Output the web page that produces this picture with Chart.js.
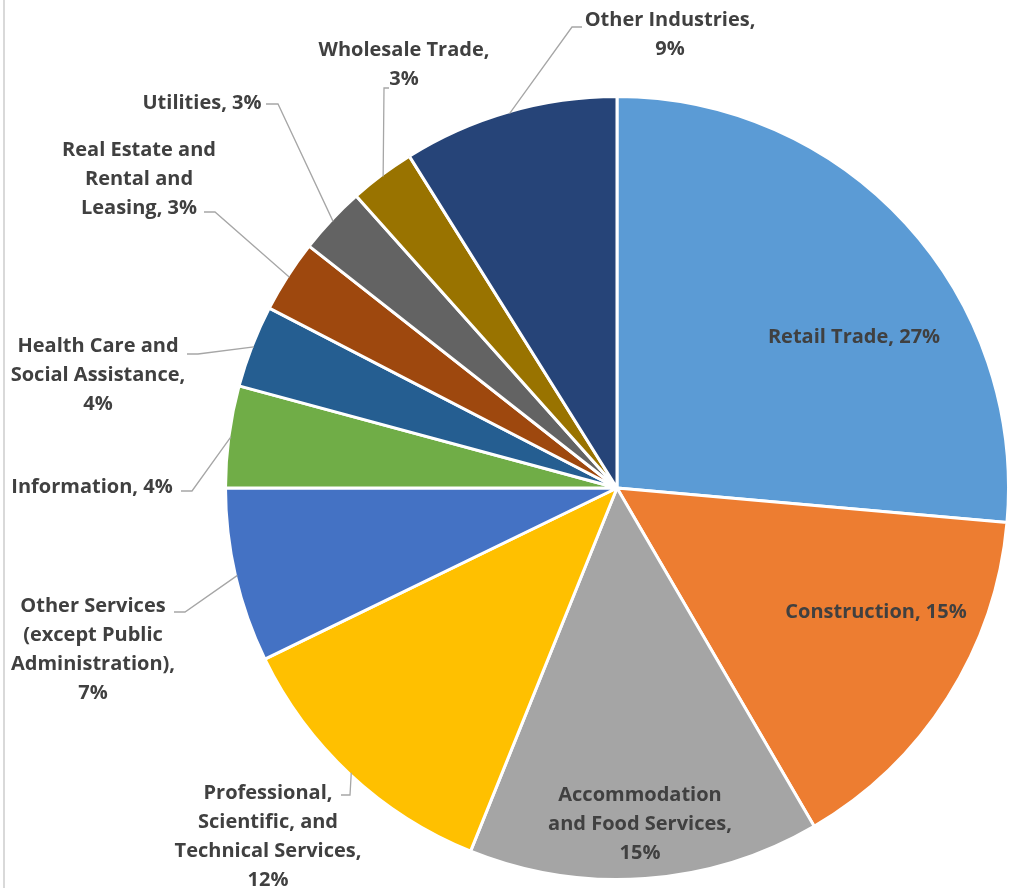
<!DOCTYPE html>
<html>
<head>
<meta charset="utf-8">
<script src="https://cdn.jsdelivr.net/npm/chart.js@4.4.1/dist/chart.umd.min.js"></script>
<style>
    html, body { margin: 0; padding: 0; background: #fff; }
    #wrap { position: relative; width: 1010px; height: 888px; }
    #edge { position: absolute; left: 3px; top: 0; width: 2px; height: 888px; background: #d9d9d9; }
</style>
</head>
<body>
<div id="wrap">
    <canvas id="industryPie" width="1010" height="888"></canvas>
    <div id="edge"></div>
</div>
<script>
// Données (parts en %)
const industries = [
    'Retail Trade', 'Construction', 'Accommodation and Food Services',
    'Professional, Scientific, and Technical Services',
    'Other Services (except Public Administration)', 'Information',
    'Health Care and Social Assistance', 'Real Estate and Rental and Leasing',
    'Utilities', 'Wholesale Trade', 'Other Industries'
];
const shares = [26.4, 15.2, 14.5, 11.7, 7.2, 4.2, 3.4, 3.0, 2.8, 2.7, 8.9];
const sliceColors = [
    '#5b9bd5', '#ed7d31', '#a5a5a5', '#ffc000', '#4472c4', '#70ad47',
    '#255e91', '#9e480e', '#636363', '#997300', '#264478'
];

// Libellés : lignes de texte, position du texte, coude et bout du trait de rappel
const labelLines = [
    ['Retail Trade, 27%'],
    ['Construction, 15%'],
    ['Accommodation', 'and Food Services,', '15%'],
    ['Professional,', 'Scientific, and', 'Technical Services,', '12%'],
    ['Other Services', '(except Public', 'Administration),', '7%'],
    ['Information, 4%'],
    ['Health Care and', 'Social Assistance,', '4%'],
    ['Real Estate and', 'Rental and', 'Leasing, 3%'],
    ['Utilities, 3%'],
    ['Wholesale Trade,', '3%'],
    ['Other Industries,', '9%']
];
const labelPos = [
    { x: 854, y: 337 },
    { x: 876, y: 612 },
    { x: 640, y: 795 },
    { x: 268, y: 793, leader: [[350, 795], [341, 795]] },
    { x: 93, y: 606, leader: [[185, 612], [174, 612]] },
    { x: 92, y: 487, leader: [[192, 491], [181, 491]] },
    { x: 98, y: 346, leader: [[198, 354], [187, 354]] },
    { x: 139, y: 150, leader: [[215, 212], [204, 212]] },
    { x: 202, y: 103, leader: [[278, 104], [266, 104]] },
    { x: 404, y: 50, leader: [[384, 88], [389, 88]] },
    { x: 670, y: 20, leader: [[572, 27], [582, 27]] }
];

const pieLabels = {
    id: 'pieLabels',
    afterDatasetsDraw(chart) {
        const ctx = chart.ctx;
        const arcs = chart.getDatasetMeta(0).data;
        ctx.save();
        arcs.forEach((arc, i) => {
            const pos = labelPos[i];
            if (pos.leader) {
                const mid = (arc.startAngle + arc.endAngle) / 2;
                const r = arc.outerRadius - 2;
                ctx.beginPath();
                ctx.moveTo(arc.x + Math.cos(mid) * r, arc.y + Math.sin(mid) * r);
                pos.leader.forEach(p => ctx.lineTo(p[0], p[1]));
                ctx.strokeStyle = '#a6a6a6';
                ctx.lineWidth = 1.3;
                ctx.stroke();
            }
            ctx.fillStyle = '#404040';
            ctx.font = 'bold 20px "Open Sans"';
            ctx.textAlign = 'center';
            ctx.textBaseline = 'middle';
            labelLines[i].forEach((line, k) => {
                ctx.fillText(line, pos.x, pos.y + k * 29);
            });
        });
        ctx.restore();
    }
};

new Chart(document.getElementById('industryPie').getContext('2d'), {
    type: 'pie',
    data: {
        labels: industries,
        datasets: [{
            data: shares,
            backgroundColor: sliceColors,
            borderColor: '#fff',
            borderWidth: 3
        }]
    },
    options: {
        responsive: false,
        animation: false,
        layout: {
            padding: { left: 224, top: 95, right: 0, bottom: 7 }
        },
        plugins: {
            legend: { display: false },
            tooltip: { enabled: false }
        }
    },
    plugins: [pieLabels]
});
</script>
</body>
</html>
